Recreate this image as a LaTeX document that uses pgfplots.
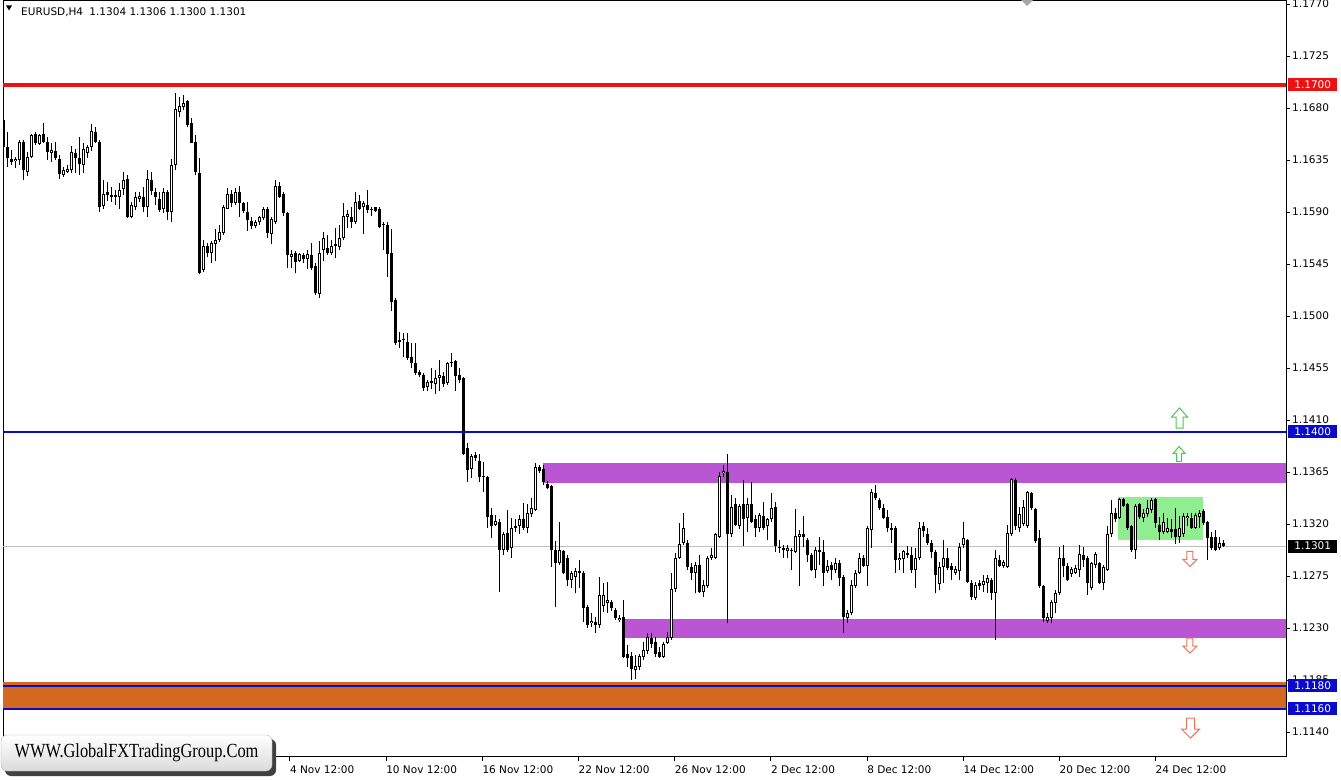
\documentclass[border=0pt]{standalone}
\usepackage{pgfplots}
\pgfplotsset{compat=1.18}
\usepackage{pgfplotstable}
\usepackage{fontspec}
\setmainfont{DejaVu Sans}
\newfontfamily\wmfont{Liberation Serif}
\definecolor{purp}{HTML}{BA55D3}
\definecolor{choc}{HTML}{D2691E}
\definecolor{lgreen}{HTML}{90EE90}
\definecolor{lblue}{HTML}{0A0ACD}
\definecolor{lred}{HTML}{EE1111}
\definecolor{upgreen}{HTML}{4CC94C}
\definecolor{dnred}{HTML}{F0705A}
\definecolor{bidgray}{HTML}{C0C0C0}

\pgfplotstableread{
i o h l c
0 1.1670 1.1673 1.1644 1.1646
1 1.1646 1.1659 1.1629 1.1637
2 1.1636 1.1644 1.1631 1.1633
3 1.1634 1.1638 1.1628 1.1636
4 1.1635 1.1652 1.1631 1.1651
5 1.1651 1.1652 1.1618 1.1626
6 1.1625 1.1642 1.1621 1.1638
7 1.1638 1.1658 1.1637 1.1657
8 1.1658 1.1659 1.1648 1.1650
9 1.1649 1.1658 1.1648 1.1657
10 1.1658 1.1667 1.1650 1.1651
11 1.1651 1.1655 1.1635 1.1642
12 1.1641 1.1650 1.1633 1.1644
13 1.1643 1.1651 1.1635 1.1637
14 1.1636 1.1639 1.1619 1.1623
15 1.1622 1.1629 1.1620 1.1626
16 1.1625 1.1631 1.1624 1.1627
17 1.1626 1.1647 1.1624 1.1642
18 1.1641 1.1645 1.1624 1.1637
19 1.1637 1.1655 1.1622 1.1632
20 1.1631 1.1650 1.1624 1.1645
21 1.1641 1.1648 1.1637 1.1646
22 1.1646 1.1666 1.1643 1.1660
23 1.1659 1.1664 1.1650 1.1651
24 1.1651 1.1652 1.1590 1.1594
25 1.1595 1.1618 1.1593 1.1606
26 1.1607 1.1616 1.1600 1.1605
27 1.1605 1.1612 1.1599 1.1603
28 1.1605 1.1609 1.1596 1.1603
29 1.1603 1.1615 1.1593 1.1609
30 1.1610 1.1625 1.1605 1.1618
31 1.1619 1.1622 1.1585 1.1586
32 1.1586 1.1599 1.1585 1.1596
33 1.1594 1.1607 1.1592 1.1603
34 1.1601 1.1607 1.1599 1.1604
35 1.1603 1.1612 1.1590 1.1594
36 1.1594 1.1626 1.1586 1.1619
37 1.1618 1.1625 1.1605 1.1608
38 1.1607 1.1611 1.1596 1.1603
39 1.1601 1.1607 1.1590 1.1592
40 1.1593 1.1611 1.1589 1.1607
41 1.1607 1.1609 1.1583 1.1590
42 1.1590 1.1636 1.1581 1.1631
43 1.1631 1.1693 1.1626 1.1679
44 1.1677 1.1690 1.1672 1.1682
45 1.1681 1.1691 1.1678 1.1684
46 1.1686 1.1687 1.1664 1.1665
47 1.1667 1.1671 1.1650 1.1650
48 1.1651 1.1657 1.1622 1.1625
49 1.1624 1.1637 1.1536 1.1537
50 1.1540 1.1566 1.1538 1.1561
51 1.1561 1.1563 1.1551 1.1555
52 1.1555 1.1565 1.1546 1.1563
53 1.1562 1.1575 1.1548 1.1566
54 1.1566 1.1579 1.1564 1.1573
55 1.1572 1.1596 1.1570 1.1594
56 1.1593 1.1611 1.1593 1.1606
57 1.1606 1.1609 1.1594 1.1598
58 1.1598 1.1611 1.1596 1.1607
59 1.1607 1.1613 1.1586 1.1598
60 1.1598 1.1599 1.1589 1.1591
61 1.1590 1.1599 1.1574 1.1583
62 1.1582 1.1586 1.1575 1.1578
63 1.1578 1.1583 1.1576 1.1581
64 1.1581 1.1587 1.1579 1.1586
65 1.1585 1.1594 1.1583 1.1593
66 1.1593 1.1594 1.1568 1.1572
67 1.1571 1.1586 1.1562 1.1584
68 1.1581 1.1618 1.1580 1.1613
69 1.1613 1.1616 1.1602 1.1603
70 1.1606 1.1607 1.1587 1.1589
71 1.1589 1.1590 1.1542 1.1553
72 1.1551 1.1557 1.1542 1.1554
73 1.1555 1.1556 1.1537 1.1547
74 1.1548 1.1555 1.1547 1.1554
75 1.1553 1.1555 1.1546 1.1549
76 1.1549 1.1557 1.1541 1.1554
77 1.1553 1.1563 1.1540 1.1542
78 1.1543 1.1546 1.1518 1.1520
79 1.1519 1.1565 1.1516 1.1555
80 1.1557 1.1573 1.1548 1.1568
81 1.1559 1.1570 1.1553 1.1555
82 1.1555 1.1566 1.1553 1.1561
83 1.1561 1.1576 1.1550 1.1562
84 1.1560 1.1579 1.1557 1.1568
85 1.1568 1.1598 1.1566 1.1587
86 1.1586 1.1592 1.1576 1.1588
87 1.1586 1.1594 1.1576 1.1581
88 1.1581 1.1607 1.1580 1.1599
89 1.1600 1.1605 1.1592 1.1593
90 1.1594 1.1600 1.1571 1.1598
91 1.1596 1.1609 1.1589 1.1592
92 1.1592 1.1594 1.1587 1.1593
93 1.1594 1.1594 1.1590 1.1591
94 1.1593 1.1594 1.1576 1.1577
95 1.1580 1.1581 1.1557 1.1579
96 1.1579 1.1581 1.1534 1.1554
97 1.1555 1.1575 1.1504 1.1512
98 1.1514 1.1516 1.1475 1.1477
99 1.1479 1.1486 1.1472 1.1478
100 1.1480 1.1485 1.1465 1.1479
101 1.1478 1.1485 1.1462 1.1464
102 1.1465 1.1477 1.1455 1.1459
103 1.1459 1.1477 1.1449 1.1451
104 1.1452 1.1453 1.1447 1.1449
105 1.1449 1.1451 1.1435 1.1438
106 1.1439 1.1445 1.1435 1.1443
107 1.1444 1.1455 1.1437 1.1442
108 1.1441 1.1453 1.1433 1.1446
109 1.1446 1.1462 1.1435 1.1449
110 1.1448 1.1452 1.1439 1.1441
111 1.1442 1.1460 1.1440 1.1459
112 1.1459 1.1468 1.1456 1.1460
113 1.1461 1.1462 1.1435 1.1448
114 1.1449 1.1455 1.1442 1.1445
115 1.1446 1.1447 1.1380 1.1381
116 1.1386 1.1390 1.1356 1.1367
117 1.1368 1.1381 1.1360 1.1379
118 1.1380 1.1382 1.1375 1.1377
119 1.1375 1.1381 1.1356 1.1361
120 1.1362 1.1374 1.1348 1.1361
121 1.1361 1.1362 1.1317 1.1326
122 1.1328 1.1334 1.1308 1.1318
123 1.1319 1.1328 1.1318 1.1323
124 1.1322 1.1324 1.1261 1.1298
125 1.1298 1.1313 1.1293 1.1311
126 1.1312 1.1332 1.1296 1.1298
127 1.1299 1.1325 1.1291 1.1317
128 1.1317 1.1324 1.1313 1.1318
129 1.1318 1.1328 1.1311 1.1324
130 1.1324 1.1338 1.1315 1.1317
131 1.1317 1.1337 1.1312 1.1330
132 1.1329 1.1343 1.1326 1.1334
133 1.1332 1.1373 1.1331 1.1369
134 1.1369 1.1371 1.1364 1.1366
135 1.1368 1.1371 1.1354 1.1356
136 1.1355 1.1357 1.1350 1.1351
137 1.1353 1.1354 1.1283 1.1298
138 1.1298 1.1305 1.1248 1.1286
139 1.1286 1.1322 1.1285 1.1298
140 1.1297 1.1298 1.1277 1.1278
141 1.1291 1.1293 1.1266 1.1272
142 1.1272 1.1279 1.1265 1.1278
143 1.1274 1.1282 1.1260 1.1279
144 1.1279 1.1289 1.1265 1.1278
145 1.1278 1.1279 1.1235 1.1247
146 1.1248 1.1250 1.1230 1.1233
147 1.1234 1.1243 1.1231 1.1236
148 1.1235 1.1240 1.1226 1.1233
149 1.1233 1.1274 1.1230 1.1259
150 1.1249 1.1269 1.1244 1.1259
151 1.1252 1.1270 1.1243 1.1254
152 1.1253 1.1254 1.1245 1.1247
153 1.1246 1.1247 1.1237 1.1239
154 1.1237 1.1241 1.1235 1.1239
155 1.1240 1.1254 1.1204 1.1205
156 1.1208 1.1215 1.1196 1.1204
157 1.1206 1.1209 1.1185 1.1195
158 1.1194 1.1207 1.1186 1.1197
159 1.1196 1.1208 1.1194 1.1206
160 1.1205 1.1218 1.1202 1.1211
161 1.1210 1.1226 1.1208 1.1222
162 1.1221 1.1226 1.1213 1.1216
163 1.1218 1.1222 1.1205 1.1208
164 1.1209 1.1214 1.1204 1.1205
165 1.1205 1.1218 1.1204 1.1216
166 1.1217 1.1227 1.1216 1.1222
167 1.1221 1.1278 1.1220 1.1264
168 1.1264 1.1295 1.1261 1.1291
169 1.1291 1.1321 1.1290 1.1303
170 1.1304 1.1330 1.1302 1.1317
171 1.1304 1.1306 1.1280 1.1283
172 1.1283 1.1286 1.1272 1.1278
173 1.1278 1.1287 1.1260 1.1285
174 1.1285 1.1293 1.1260 1.1261
175 1.1261 1.1272 1.1257 1.1267
176 1.1266 1.1292 1.1265 1.1291
177 1.1291 1.1299 1.1289 1.1293
178 1.1291 1.1312 1.1290 1.1311
179 1.1309 1.1365 1.1308 1.1362
180 1.1364 1.1371 1.1361 1.1366
181 1.1365 1.1381 1.1234 1.1311
182 1.1311 1.1345 1.1309 1.1335
183 1.1337 1.1343 1.1318 1.1319
184 1.1318 1.1337 1.1316 1.1336
185 1.1337 1.1358 1.1301 1.1324
186 1.1325 1.1343 1.1313 1.1337
187 1.1337 1.1356 1.1321 1.1322
188 1.1324 1.1328 1.1309 1.1317
189 1.1317 1.1330 1.1313 1.1328
190 1.1327 1.1339 1.1315 1.1317
191 1.1318 1.1325 1.1306 1.1324
192 1.1324 1.1347 1.1322 1.1334
193 1.1335 1.1339 1.1296 1.1301
194 1.1300 1.1306 1.1295 1.1299
195 1.1299 1.1302 1.1291 1.1298
196 1.1297 1.1302 1.1291 1.1299
197 1.1298 1.1299 1.1280 1.1297
198 1.1296 1.1333 1.1295 1.1310
199 1.1309 1.1315 1.1266 1.1311
200 1.1311 1.1327 1.1300 1.1309
201 1.1306 1.1308 1.1287 1.1293
202 1.1293 1.1295 1.1279 1.1280
203 1.1280 1.1300 1.1273 1.1298
204 1.1298 1.1309 1.1285 1.1296
205 1.1296 1.1306 1.1266 1.1278
206 1.1279 1.1289 1.1278 1.1284
207 1.1285 1.1287 1.1272 1.1280
208 1.1280 1.1291 1.1278 1.1286
209 1.1286 1.1289 1.1266 1.1273
210 1.1274 1.1276 1.1226 1.1240
211 1.1239 1.1246 1.1234 1.1243
212 1.1243 1.1272 1.1241 1.1267
213 1.1266 1.1280 1.1265 1.1278
214 1.1278 1.1295 1.1277 1.1291
215 1.1291 1.1293 1.1283 1.1284
216 1.1284 1.1318 1.1266 1.1317
217 1.1315 1.1350 1.1299 1.1348
218 1.1347 1.1354 1.1341 1.1343
219 1.1341 1.1343 1.1332 1.1334
220 1.1334 1.1337 1.1324 1.1325
221 1.1326 1.1332 1.1313 1.1317
222 1.1317 1.1321 1.1304 1.1315
223 1.1317 1.1318 1.1278 1.1289
224 1.1289 1.1295 1.1280 1.1291
225 1.1290 1.1298 1.1278 1.1297
226 1.1295 1.1301 1.1291 1.1293
227 1.1293 1.1300 1.1278 1.1280
228 1.1280 1.1299 1.1265 1.1291
229 1.1291 1.1322 1.1289 1.1317
230 1.1318 1.1322 1.1309 1.1314
231 1.1311 1.1317 1.1302 1.1304
232 1.1304 1.1306 1.1291 1.1296
233 1.1296 1.1298 1.1260 1.1276
234 1.1268 1.1287 1.1263 1.1283
235 1.1283 1.1306 1.1269 1.1291
236 1.1291 1.1299 1.1280 1.1282
237 1.1284 1.1286 1.1272 1.1280
238 1.1278 1.1284 1.1276 1.1281
239 1.1279 1.1304 1.1272 1.1300
240 1.1302 1.1322 1.1299 1.1308
241 1.1306 1.1307 1.1269 1.1270
242 1.1269 1.1272 1.1254 1.1257
243 1.1256 1.1270 1.1254 1.1267
244 1.1269 1.1272 1.1263 1.1266
245 1.1267 1.1276 1.1261 1.1271
246 1.1269 1.1276 1.1260 1.1273
247 1.1272 1.1273 1.1254 1.1260
248 1.1260 1.1298 1.1220 1.1291
249 1.1289 1.1293 1.1283 1.1284
250 1.1284 1.1289 1.1282 1.1287
251 1.1283 1.1319 1.1282 1.1312
252 1.1311 1.1360 1.1310 1.1359
253 1.1358 1.1360 1.1315 1.1318
254 1.1317 1.1335 1.1313 1.1329
255 1.1320 1.1341 1.1318 1.1335
256 1.1318 1.1349 1.1317 1.1348
257 1.1347 1.1348 1.1332 1.1334
258 1.1333 1.1334 1.1304 1.1305
259 1.1308 1.1315 1.1265 1.1266
260 1.1266 1.1267 1.1235 1.1239
261 1.1236 1.1243 1.1234 1.1240
262 1.1239 1.1254 1.1234 1.1253
263 1.1252 1.1263 1.1243 1.1260
264 1.1260 1.1300 1.1259 1.1291
265 1.1291 1.1302 1.1274 1.1284
266 1.1284 1.1286 1.1271 1.1272
267 1.1277 1.1283 1.1274 1.1281
268 1.1278 1.1285 1.1277 1.1282
269 1.1280 1.1302 1.1274 1.1294
270 1.1293 1.1300 1.1283 1.1289
271 1.1291 1.1292 1.1259 1.1269
272 1.1265 1.1287 1.1263 1.1286
273 1.1285 1.1296 1.1282 1.1294
274 1.1286 1.1287 1.1268 1.1269
275 1.1269 1.1285 1.1263 1.1283
276 1.1280 1.1318 1.1279 1.1311
277 1.1311 1.1341 1.1309 1.1330
278 1.1330 1.1334 1.1322 1.1324
279 1.1325 1.1343 1.1324 1.1342
280 1.1342 1.1343 1.1335 1.1336
281 1.1337 1.1338 1.1315 1.1317
282 1.1318 1.1319 1.1296 1.1298
283 1.1298 1.1337 1.1290 1.1336
284 1.1337 1.1338 1.1324 1.1326
285 1.1325 1.1333 1.1322 1.1330
286 1.1329 1.1341 1.1326 1.1334
287 1.1332 1.1343 1.1330 1.1341
288 1.1342 1.1343 1.1317 1.1321
289 1.1319 1.1326 1.1306 1.1313
290 1.1313 1.1330 1.1311 1.1322
291 1.1313 1.1325 1.1312 1.1317
292 1.1316 1.1324 1.1308 1.1313
293 1.1316 1.1334 1.1303 1.1309
294 1.1309 1.1327 1.1304 1.1317
295 1.1311 1.1330 1.1309 1.1327
296 1.1325 1.1330 1.1318 1.1327
297 1.1325 1.1330 1.1316 1.1317
298 1.1317 1.1330 1.1316 1.1328
299 1.1326 1.1332 1.1317 1.1330
300 1.1331 1.1333 1.1319 1.1321
301 1.1322 1.1323 1.1289 1.1308
302 1.1309 1.1313 1.1298 1.1299
303 1.1309 1.1315 1.1297 1.1298
304 1.1299 1.1309 1.1298 1.1304
305 1.1304 1.1306 1.1300 1.1301
}\candles

\begin{document}
\begin{tikzpicture}
\begin{axis}[
  at={(3pt,22pt)}, anchor=south west,
  scale only axis, width=1283pt, height=756pt,
  xmin=-0.125, xmax=320.625, ymin=1.111845, ymax=1.17727,
  axis line style={black, line width=1pt},
  xtick={71.6,95.65,119.7,143.75,167.8,191.85,215.9,239.95,264.0,288.0},
  xticklabels={4 Nov 12:00,10 Nov 12:00,16 Nov 12:00,22 Nov 12:00,26 Nov 12:00,2 Dec 12:00,8 Dec 12:00,14 Dec 12:00,20 Dec 12:00,24 Dec 12:00},
  ytick={1.1140,1.1185,1.1230,1.1275,1.1320,1.1365,1.1410,1.1455,1.1500,1.1545,1.1590,1.1635,1.1680,1.1725,1.1770},
  yticklabels={1.1140,1.1185,1.1230,1.1275,1.1320,1.1365,1.1410,1.1455,1.1500,1.1545,1.1590,1.1635,1.1680,1.1725,1.1770},
  scaled y ticks=false, scaled x ticks=false,
  xtick pos=left, ytick pos=right, yticklabel pos=right,
  tick align=outside, major tick length=4pt,
  tick style={black, line width=1pt},
  ticklabel style={font=\fontsize{10.5}{12}\selectfont, text=black},
  xticklabel style={anchor=north west, inner sep=0pt, yshift=-5pt},
  yticklabel style={anchor=west, inner sep=0pt, xshift=2pt},
  clip=true,
]
% background objects
\fill[purp] (axis cs:134.875,1.13558) rectangle (axis cs:320.625,1.13731);
\fill[purp] (axis cs:155.2,1.12210) rectangle (axis cs:320.625,1.12379);
\fill[lgreen] (axis cs:278.6,1.13062) rectangle (axis cs:299.9,1.13437);
\fill[choc] (axis cs:-0.125,1.11600) rectangle (axis cs:320.625,1.11830);
\addplot[bidgray, line width=1pt] coordinates {(-0.125,1.1301) (320.625,1.1301)};

% wicks
\addplot[draw=none, mark=none,
  error bars/.cd, y dir=plus, y explicit, error mark=none,
  error bar style={draw=black, line width=1pt}]
  table[x=i, y=l, y error expr=\thisrow{h}-\thisrow{l}] {\candles};
% bodies
\addplot[draw=none, mark=none,
  error bars/.cd, y dir=plus, y explicit, error mark=none,
  error bar style={draw=black, line width=3pt}]
  table[x=i, y expr={min(\thisrow{o},\thisrow{c})},
        y error expr={max(abs(\thisrow{c}-\thisrow{o}),0.00009)}] {\candles};
% hollow interior of rising candles
\addplot[draw=none, mark=none,
  error bars/.cd, y dir=plus, y explicit, error mark=none,
  error bar style={draw=white, line width=1pt}]
  table[x=i, y expr={ifthenelse(\thisrow{c}-\thisrow{o}>0.00018,\thisrow{o}+0.0000865,1.0)},
        y error expr={\thisrow{c}-\thisrow{o}-0.000173}] {\candles};

% level lines
\addplot[lred, line width=4pt] coordinates {(-0.125,1.1700) (320.625,1.1700)};
\addplot[lblue, line width=2pt] coordinates {(-0.125,1.1400) (320.625,1.1400)};
\addplot[lblue, line width=2pt] coordinates {(-0.125,1.1180) (320.625,1.1180)};
\addplot[lblue, line width=2pt] coordinates {(-0.125,1.1160) (320.625,1.1160)};

% arrows
\draw[upgreen, line width=1pt, fill=white, shift={(axis cs:294,1.14118)}]
  (-3.5pt,-10pt) -- (-3.5pt,1pt) -- (-8pt,1pt) -- (0pt,10pt) -- (8pt,1pt) -- (3.5pt,1pt) -- (3.5pt,-10pt) -- cycle;
\draw[upgreen, line width=1pt, fill=white, shift={(axis cs:293.9,1.13807)}]
  (-2.5pt,-7.5pt) -- (-2.5pt,0.5pt) -- (-6pt,0.5pt) -- (0pt,7.5pt) -- (6pt,0.5pt) -- (2.5pt,0.5pt) -- (2.5pt,-7.5pt) -- cycle;
\draw[dnred, line width=1pt, fill=white, shift={(axis cs:296.6,1.12898)}]
  (-3pt,7.5pt) -- (-3pt,-0.5pt) -- (-7pt,-0.5pt) -- (0pt,-7.5pt) -- (7pt,-0.5pt) -- (3pt,-0.5pt) -- (3pt,7.5pt) -- cycle;
\draw[dnred, line width=1pt, fill=white, shift={(axis cs:296.6,1.12149)}]
  (-3pt,7.5pt) -- (-3pt,-0.5pt) -- (-7pt,-0.5pt) -- (0pt,-7.5pt) -- (7pt,-0.5pt) -- (3pt,-0.5pt) -- (3pt,7.5pt) -- cycle;
\draw[dnred, line width=1pt, fill=white, shift={(axis cs:296.75,1.11435)}]
  (-4pt,10pt) -- (-4pt,-1pt) -- (-9pt,-1pt) -- (0pt,-10pt) -- (9pt,-1pt) -- (4pt,-1pt) -- (4pt,10pt) -- cycle;

\coordinate (c1700) at (axis cs:320.625,1.1700);
\coordinate (c1400) at (axis cs:320.625,1.1400);
\coordinate (c1301) at (axis cs:320.625,1.1301);
\coordinate (c1180) at (axis cs:320.625,1.1180);
\coordinate (c1160) at (axis cs:320.625,1.1160);
\end{axis}

% price label boxes
\tikzset{pl/.style={anchor=west, text=white, minimum width=49pt, minimum height=13pt, inner sep=0pt, font=\fontsize{10.5}{12}\selectfont}}
\node[pl, fill=lred] at ([xshift=2pt]c1700) {1.1700};
\node[pl, fill=lblue] at ([xshift=2pt]c1400) {1.1400};
\node[pl, fill=black] at ([xshift=2pt]c1301) {1.1301};
\node[pl, fill=lblue] at ([xshift=2pt]c1180) {1.1180};
\node[pl, fill=lblue] at ([xshift=2pt]c1160) {1.1160};

% header
\fill[black] (6pt,773.5pt) -- (12pt,773.5pt) -- (9pt,768.5pt) -- cycle;
\node[anchor=base west, inner sep=0pt, font=\fontsize{10.5}{12}\selectfont] at (21pt,763pt)
  {EURUSD,H4\hspace{0.6em}1.1304 1.1306 1.1300 1.1301};
% chart shift marker
\fill[black!35] (1021pt,779pt) -- (1033pt,779pt) -- (1027pt,773pt) -- cycle;

% watermark
\fill[black!75, rounded corners=6pt] (5pt,3pt) rectangle (276pt,40pt);
\shade[top color=white, bottom color=black!14, rounded corners=6pt, draw=black!30] (1pt,8pt) rectangle (272pt,44pt);
\node[font=\wmfont\fontsize{20}{22}\selectfont, xscale=0.82, anchor=base, inner sep=0pt] at (136.5pt,21pt) {WWW.GlobalFXTradingGroup.Com};

\pgfresetboundingbox
\path[use as bounding box] (0pt,0pt) rectangle (1341pt,779pt);
\end{tikzpicture}
\end{document}
